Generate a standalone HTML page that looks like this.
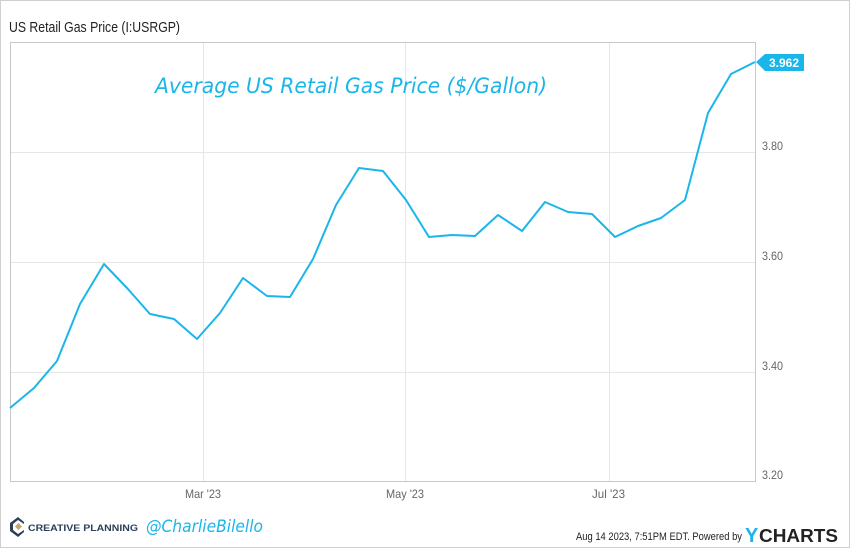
<!DOCTYPE html>
<html><head><meta charset="utf-8"><style>
body{margin:0;background:#fff;}
svg{display:block;font-family:"Liberation Sans",sans-serif;}
</style></head><body>
<svg width="850" height="548" viewBox="0 0 850 548" xmlns="http://www.w3.org/2000/svg">
<rect x="0.5" y="0.5" width="849" height="547" fill="#fff" stroke="#d0d0d0"/>
<text x="9" y="32" font-size="15" fill="#222" textLength="171" lengthAdjust="spacingAndGlyphs">US Retail Gas Price (I:USRGP)</text>
<g stroke="#e6e6e6" stroke-width="1">
<line x1="10" y1="152.5" x2="755" y2="152.5"/>
<line x1="10" y1="262.5" x2="755" y2="262.5"/>
<line x1="10" y1="372.5" x2="755" y2="372.5"/>
<line x1="203.5" y1="42" x2="203.5" y2="481"/>
<line x1="405.5" y1="42" x2="405.5" y2="481"/>
<line x1="609.5" y1="42" x2="609.5" y2="481"/>
</g>
<rect x="10.5" y="42.5" width="745" height="439" fill="none" stroke="#c8c8c8"/>
<g font-size="12" fill="#666">
<text x="762" y="150" textLength="21" lengthAdjust="spacingAndGlyphs">3.80</text>
<text x="762" y="260" textLength="21" lengthAdjust="spacingAndGlyphs">3.60</text>
<text x="762" y="370" textLength="21" lengthAdjust="spacingAndGlyphs">3.40</text>
<text x="762" y="479" textLength="21" lengthAdjust="spacingAndGlyphs">3.20</text>
<text x="185" y="498" textLength="36" lengthAdjust="spacingAndGlyphs">Mar '23</text>
<text x="386" y="498" textLength="38" lengthAdjust="spacingAndGlyphs">May '23</text>
<text x="592" y="498" textLength="33" lengthAdjust="spacingAndGlyphs">Jul '23</text>
</g>
<text x="155" y="93" font-size="21" font-style="italic" fill="#1ab6ea" font-family="'DejaVu Sans',sans-serif" textLength="392" lengthAdjust="spacingAndGlyphs">Average US Retail Gas Price ($/Gallon)</text>
<polyline fill="none" stroke="#1ab6ea" stroke-width="2" stroke-linejoin="round" points="10,408 34,388 57,361 80,304 104,264 127,288 150,314 174,319 197,339 220,313 243,278 267,296 290,297 313,259 336,205 359,168 383,171 406,200 429,237 452,235 475,236 498,215 522,231 545,202 568,212 592,214 615,237 638,226 661,218 685,200 708,113 731,74 755,62"/>
<polygon points="756,62 765,54 804,54 804,71 765,71" fill="#1ab6ea"/>
<text x="784" y="67" text-anchor="middle" font-size="12" font-weight="bold" fill="#fff">3.962</text>
<g transform="translate(10,517)">
<path d="M8,0 L14,5 L14,7 L8,3 L3,7 L3,13 L8,17 L14,13 L14,15 L8,20 L0,14 L0,6 Z" fill="#2b4159"/>
<rect x="6" y="7" width="5" height="5" fill="#c9a46b" transform="rotate(45 8.5 9.5)"/>
</g>
<text x="28" y="531" font-size="9" font-weight="bold" fill="#2b4159" textLength="110" lengthAdjust="spacingAndGlyphs">CREATIVE PLANNING</text>
<text x="146" y="532" font-size="17" font-style="italic" fill="#1ab6ea" font-family="'DejaVu Sans',sans-serif" textLength="117" lengthAdjust="spacingAndGlyphs">@CharlieBilello</text>
<text x="576" y="540" font-size="11" fill="#222" textLength="166" lengthAdjust="spacingAndGlyphs">Aug 14 2023, 7:51PM EDT.  Powered by</text>
<text x="745" y="542" font-size="20" font-weight="bold" fill="#1ab6ea">Y</text>
<text x="759" y="542" font-size="18" font-weight="bold" fill="#222" textLength="79" lengthAdjust="spacingAndGlyphs">CHARTS</text>
</svg>
</body></html>
